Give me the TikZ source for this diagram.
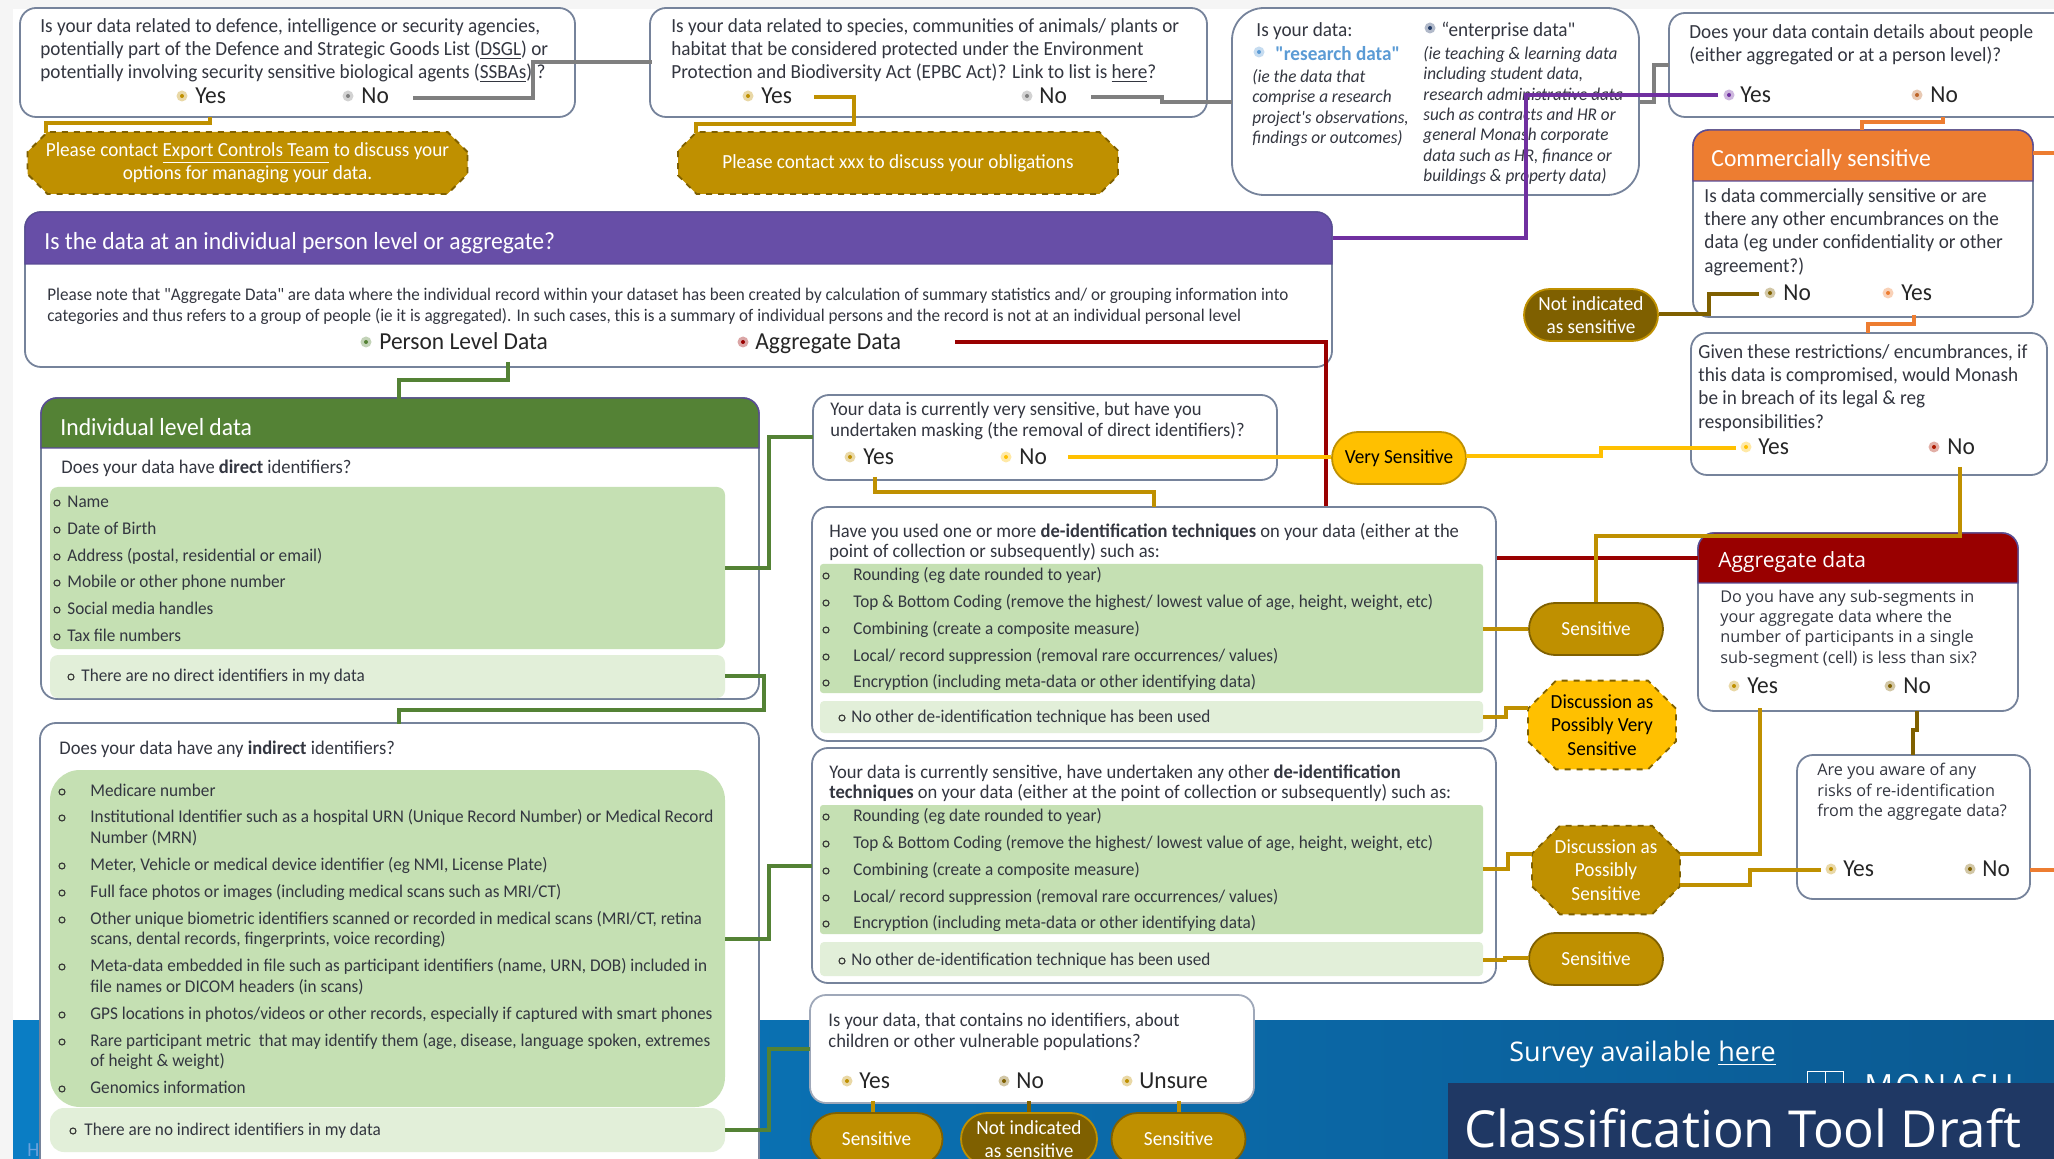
\documentclass[tikz,border=0pt]{standalone}
\usepackage{fontspec}
\setmainfont[FakeStretch=0.96, Ligatures=TeXOff]{Carlito}
\newfontfamily\widefont{Open Sans}
\usetikzlibrary{shapes.misc}

\definecolor{slateedge}{HTML}{76839B}
\definecolor{ink}{HTML}{333640}
\definecolor{goldfill}{HTML}{BF9000}
\definecolor{brownfill}{HTML}{7F6000}
\definecolor{amberfill}{HTML}{FFC000}
\definecolor{leafgreen}{HTML}{548235}
\definecolor{listgreen}{HTML}{C5E0B3}
\definecolor{palegreen}{HTML}{E2EFD9}
\definecolor{headpurple}{HTML}{674EA7}
\definecolor{headedge}{HTML}{5A4A96}
\definecolor{linepurple}{HTML}{7030A0}
\definecolor{headorange}{HTML}{ED7D31}
\definecolor{headred}{HTML}{990000}
\definecolor{linegrey}{HTML}{7F7F7F}
\definecolor{navyband}{HTML}{1F3864}
\definecolor{linkblue}{HTML}{5B9BD5}
\definecolor{darkblue}{HTML}{1F3864}
\definecolor{bandleft}{HTML}{0A7DC4}
\definecolor{bandmid}{HTML}{0070C0}
\definecolor{bandright}{HTML}{0B5A92}

\newcommand{\qfont}{\fontsize{10}{11.6}\selectfont}
\newcommand{\rfont}{\fontsize{9.65}{10.2}\selectfont}
\newcommand{\itfont}{\fontsize{8.95}{10.2}\selectfont\itshape}
\newcommand{\notefont}{\fontsize{8.9}{10.4}\selectfont}
\newcommand{\listfont}{\fontsize{8.95}{10.2}\selectfont}
\newcommand{\pickfont}{\fontsize{12.2}{13}\selectfont}
\newcommand{\pillfont}{\fontsize{10}{11.7}\selectfont}
\newcommand{\aggfont}{\widefont\fontsize{8.1}{10.2}\selectfont}

\tikzset{
    panelbox/.style={draw=slateedge, line width=0.9pt, fill=white, rounded corners=8pt, inner sep=0pt, outer sep=0pt},
    greenbox/.style={fill=listgreen, rounded corners=4pt, inner sep=0pt, outer sep=0pt},
    paleboxed/.style={fill=palegreen, rounded corners=4pt, inner sep=0pt, outer sep=0pt},
    headbar/.style={draw=headedge, line width=0.7pt},
    txt/.style={anchor=west, align=left, inner sep=0pt, text=ink, font=\qfont},
    headtxt/.style={anchor=west, inner sep=0pt, text=white, font=\fontsize{12.3}{14}\selectfont},
    picktxt/.style={anchor=west, inner sep=0pt, yshift=-1.2pt, text=black!85, font=\pickfont},
    radiohalo/.style={circle, inner sep=0pt, minimum size=5.5pt},
    bulletmark/.style={circle, draw=black!80, line width=0.55pt, inner sep=0pt, minimum size=3pt},
    pill/.style={rounded rectangle, draw=brownfill, line width=0.9pt, fill=goldfill, text=white, align=center, inner sep=0pt, font=\pillfont},
    brownpill/.style={pill, fill=brownfill, draw=goldfill},
    amberpill/.style={pill, fill=amberfill, draw=goldfill, text=black},
    snip/.style={chamfered rectangle, draw=brownfill, line width=0.9pt, dashed, fill=goldfill, text=white, align=center, inner sep=0pt, font=\pillfont},
    goldline/.style={draw=goldfill, line width=1.8pt},
    amberline/.style={draw=amberfill, line width=1.6pt},
    brownline/.style={draw=brownfill, line width=1.9pt},
    greenline/.style={draw=leafgreen, line width=1.8pt},
    redline/.style={draw=headred, line width=1.8pt},
    purpleline/.style={draw=linepurple, line width=1.8pt},
    orangeline/.style={draw=headorange, line width=1.8pt},
    greyline/.style={draw=linegrey, line width=2pt}
}

\newcommand{\panel}[6][]{\node[panelbox, minimum width={(#5-#3)*0.5pt}, minimum height={(#6-#4)*0.5pt}, #1] (#2) at ({(#3+#5)/2},{(#4+#6)/2}) {};}
\newcommand{\radio}[6]{\node[radiohalo, fill=#5!35] (#1) at (#2,#4) {};
    \fill[#5] (#1) circle (1pt);
    \node[picktxt] (#1text) at (#3,#4) {\strut #6};}
\newcommand{\bul}[5]{\node[bulletmark] (#1) at (#2,#4) {};
    \node[txt, font=\listfont, yshift=-0.4pt] (#1text) at (#3,#4) {\strut #5};}

\begin{document}
\begin{tikzpicture}[x=0.5pt, y=-0.5pt]
    \useasboundingbox (0,0) rectangle (2054,1159);
    \clip (0,0) rectangle (2054,1159);
    \fill[black!4] (0,0) rectangle (2054,1159);
    \fill[white] (13,9) rectangle (2054,1020);
    \fill[left color=bandleft, middle color=bandmid, right color=bandright] (13,1020) rectangle (2054,1159);
    \node[anchor=west, inner sep=0pt, text=cyan!60!blue!60, font=\pillfont] (cutoff) at (27,1150) {H};

    \node[anchor=west, inner sep=0pt, text=white, font=\widefont\fontsize{13.5}{15}\selectfont] (survey) at (1509,1054) {Survey available \underline{here}};
    \node[anchor=west, inner sep=0pt, text=white!85, font=\widefont\fontsize{16}{18}\selectfont] (monash) at (1864,1086) {M\kern1pt O\kern1pt N\kern1pt A\kern1pt S\kern1pt H};
    \node[draw=white!70, inner sep=0pt, minimum width=9pt, minimum height=10pt] (crestleft) at (1816,1081) {};
    \node[draw=white!70, inner sep=0pt, minimum width=9pt, minimum height=10pt] (crestright) at (1834,1081) {};
    \node[fill=navyband, inner sep=0pt, minimum width=303pt, minimum height=38pt, anchor=north west] (banner) at (1448,1083) {};
    \node[anchor=west, inner sep=0pt, text=white, font=\widefont\fontsize{25.5}{30}\selectfont] (bannertext) at (1464,1128) {Classification Tool Draft};

    \panel{defence}{20}{8}{575}{117}
    \node[txt] (defencetext) at (40,50.5) {Is your data related to defence, intelligence or security agencies,\\potentially part of the Defence and Strategic Goods List (\underline{DSGL}) or\\potentially involving security sensitive biological agents (\underline{SSBAs}) ?};
    \radio{defyes}{182}{195}{96}{goldfill}{Yes}
    \radio{defno}{348}{361}{96}{linegrey}{No}

    \panel{species}{650}{8}{1207}{117}
    \node[txt] (speciestext) at (671,50.5) {Is your data related to species, communities of animals/ plants or\\habitat that be considered protected under the Environment\\Protection and Biodiversity Act (EPBC Act)? Link to list is \underline{here}?};
    \radio{specyes}{748}{761}{96}{goldfill}{Yes}
    \radio{specno}{1027}{1039}{96}{linegrey}{No}

    \panel[rounded corners=16pt]{kinddata}{1232}{8}{1639}{195}
    \node[txt] (kindtext) at (1256,31) {Is your data:};
    \radio{research}{1259}{1275}{52}{linkblue}{}
    \node[txt, text=linkblue, font=\qfont\bfseries] (researchname) at (1275,54) {"research data"};
    \node[txt, font=\itfont] (researchnote) at (1252,108) {(ie the data that\\comprise a research\\project's observations,\\findings or outcomes)};
    \radio{enterprise}{1430}{1441}{28}{darkblue}{}
    \node[txt] (enterprisename) at (1441,31) {“enterprise data"};
    \node[txt, font=\itfont] (enterprisenote) at (1423,115.5) {(ie teaching \& learning data\\including student data,\\research administrative data\\such as contracts and HR or\\general Monash corporate\\data such as HR, finance or\\buildings \& property data)};

    \panel{people}{1669}{13}{2100}{117}
    \node[txt] (peopletext) at (1689,44.5) {Does your data contain details about people\\(either aggregated or at a person level)?};
    \radio{peopleyes}{1729}{1740}{95}{linepurple}{Yes}
    \radio{peopleno}{1917}{1930}{95}{headorange!80!black}{No}

    \node[snip, chamfered rectangle xsep=5pt, chamfered rectangle ysep=5pt, minimum width=220pt, minimum height=31pt] (exportpill) at (247.5,163) {Please contact \underline{Export Controls Team} to discuss your\\options for managing your data.};
    \node[snip, chamfered rectangle xsep=5pt, chamfered rectangle ysep=5pt, minimum width=220pt, minimum height=31pt] (obligationpill) at (898,163) {Please contact xxx to discuss your obligations};

    \panel{levelbox}{25}{212}{1332}{367}
    \fill[headpurple, headbar] (25,264) [rounded corners=8pt] -- (25,212) -- (1332,212) [sharp corners] -- (1332,264) -- cycle;
    \node[headtxt] (levelhead) at (44,243) {Is the data at an individual person level or aggregate?};
    \node[txt, font=\notefont] (levelnote) at (47,306) {Please note that "Aggregate Data" are data where the individual record within your dataset has been created by calculation of summary statistics and/ or grouping information into\\categories and thus refers to a group of people (ie it is aggregated). In such cases, this is a summary of individual persons and the record is not at an individual personal level};
    \radio{persondata}{366}{379}{342}{leafgreen}{Person Level Data}
    \radio{aggdata}{743}{755}{342}{headred}{Aggregate Data}

    \panel{aggbox}{1698}{533}{2018}{711}
    \fill[headred, headbar] (1698,583) [rounded corners=8pt] -- (1698,533) -- (2018,533) [sharp corners] -- (2018,583) -- cycle;
    \node[headtxt, font=\widefont\fontsize{10.5}{12}\selectfont] (agghead) at (1718,562) {Aggregate data};
    \node[txt, font=\aggfont] (aggtext) at (1720,628.5) {Do you have any sub-segments in\\your aggregate data where the\\number of participants in a single\\sub-segment (cell) is less than six?};
    \radio{aggyes}{1734}{1747}{686}{goldfill}{Yes}
    \radio{aggno}{1890}{1903}{686}{brownfill}{No}

    \coordinate (aggout) at (955,342);
    \coordinate (aggdrop) at (1326,558);
    \draw[redline] (aggout) -| (aggdrop) -- (aggbox.west |- aggdrop);

    \panel{commbox}{1693}{130}{2033}{317}
    \fill[headorange, headbar] (1693,181) [rounded corners=8pt] -- (1693,130) -- (2033,130) [sharp corners] -- (2033,181) -- cycle;
    \node[headtxt] (commhead) at (1711,160) {Commercially sensitive};
    \node[txt] (commtext) at (1704,232) {Is data commercially sensitive or are\\there any other encumbrances on the\\data (eg under confidentiality or other\\agreement?)};
    \radio{commno}{1770}{1783}{293}{brownfill}{No}
    \radio{commyes}{1888}{1901}{293}{headorange}{Yes}

    \panel{breachbox}{1691}{333}{2047}{475}
    \node[txt] (breachtext) at (1698,388) {Given these restrictions/ encumbrances, if\\this data is compromised, would Monash\\be in breach of its legal \& reg\\responsibilities?};
    \radio{breachyes}{1746}{1758}{447}{amberfill}{Yes}
    \radio{breachno}{1934}{1947}{447}{headred!80!orange}{No}

    \panel{riskbox}{1797}{755}{2030}{899}
    \node[txt, font=\aggfont] (risktext) at (1817,792) {Are you aware of any\\risks of re-identification\\from the aggregate data?};
    \radio{riskyes}{1831}{1843}{869}{goldfill}{Yes}
    \radio{riskno}{1970}{1982}{869}{brownfill}{No}

    \panel{directbox}{41}{398}{759}{699}
    \fill[leafgreen, headbar] (41,448) [rounded corners=8pt] -- (41,398) -- (759,398) [sharp corners] -- (759,448) -- cycle;
    \node[headtxt] (directhead) at (60,427) {Individual level data};
    \node[txt, font=\rfont] (directq) at (61,468) {Does your data have \textbf{direct} identifiers?};
    \panel[greenbox, draw=none]{directlist}{50}{487}{725}{649}
    \bul{dira}{57}{67}{503}{Name}
    \bul{dirb}{57}{67}{530}{Date of Birth}
    \bul{dirc}{57}{67}{557}{Address (postal, residential or email)}
    \bul{dird}{57}{67}{583}{Mobile or other phone number}
    \bul{dire}{57}{67}{610}{Social media handles}
    \bul{dirf}{57}{67}{637}{Tax file numbers}
    \panel[paleboxed, draw=none]{directnone}{50}{655}{725}{698}
    \bul{dirnone}{71}{81}{677}{There are no direct identifiers in my data}

    \panel{indirectbox}{40}{723}{759}{1180}
    \node[txt, font=\rfont] (indirectq) at (59,749) {Does your data have any \textbf{indirect} identifiers?};
    \panel[greenbox, rounded corners=15pt, draw=none]{indirectlist}{50}{770}{725}{1107}
    \bul{inda}{62}{90}{792}{Medicare number}
    \bul{indb}{62}{90}{818}{Institutional Identifier such as a hospital URN (Unique Record Number) or Medical Record}
    \node[txt, font=\listfont, yshift=-0.4pt] (indbmore) at (90,839) {\strut Number (MRN)};
    \bul{indc}{62}{90}{866}{Meter, Vehicle or medical device identifier (eg NMI, License Plate)}
    \bul{indd}{62}{90}{893}{Full face photos or images (including medical scans such as MRI/CT)}
    \bul{inde}{62}{90}{920}{Other unique biometric identifiers scanned or recorded in medical scans (MRI/CT, retina}
    \node[txt, font=\listfont, yshift=-0.4pt] (indemore) at (90,940) {\strut scans, dental records, fingerprints, voice recording)};
    \bul{indf}{62}{90}{967}{Meta-data embedded in file such as participant identifiers (name, URN, DOB) included in}
    \node[txt, font=\listfont, yshift=-0.4pt] (indfmore) at (90,988) {\strut file names or DICOM headers (in scans)};
    \bul{indg}{62}{90}{1015}{GPS locations in photos/videos or other records, especially if captured with smart phones}
    \bul{indh}{62}{90}{1042}{Rare participant metric\ \ that may identify them (age, disease, language spoken, extremes}
    \node[txt, font=\listfont, yshift=-0.4pt] (indhmore) at (90,1062) {\strut of height \& weight)};
    \bul{indi}{62}{90}{1089}{Genomics information}
    \panel[paleboxed, rounded corners=7pt, draw=none]{indirectnone}{50}{1108}{725}{1152}
    \bul{indnone}{73}{84}{1131}{There are no indirect identifiers in my data}

    \panel{maskbox}{813}{395}{1277}{480}
    \node[txt, font=\rfont] (masktext) at (830,421) {Your data is currently very sensitive, but have you\\undertaken masking (the removal of direct identifiers)?};
    \radio{maskyes}{850}{863}{457}{goldfill}{Yes}
    \radio{maskno}{1006}{1019}{457}{amberfill}{No}

    \panel{techbox}{812}{507}{1496}{741}
    \node[txt, font=\rfont] (techtext) at (829,542) {Have you used one or more \textbf{de-identification techniques} on your data (either at the\\point of collection or subsequently) such as:};
    \panel[greenbox, rounded corners=1.5pt, draw=none]{techlist}{820}{564}{1483}{693}
    \bul{tea}{826}{853}{576}{Rounding (eg date rounded to year)}
    \bul{teb}{826}{853}{603}{Top \& Bottom Coding (remove the highest/ lowest value of age, height, weight, etc)}
    \bul{tec}{826}{853}{630}{Combining (create a composite measure)}
    \bul{ted}{826}{853}{657}{Local/ record suppression (removal rare occurrences/ values)}
    \bul{tee}{826}{853}{683}{Encryption (including meta-data or other identifying data)}
    \panel[paleboxed, rounded corners=2pt, draw=none]{technone}{820}{701}{1483}{733}
    \bul{tenone}{842}{851}{718}{No other de-identification technique has been used}

    \panel{otherbox}{812}{748}{1496}{983}
    \node[txt, font=\rfont] (othertext) at (829,783) {Your data is currently sensitive, have undertaken any other \textbf{de-identification}\\\textbf{techniques} on your data (either at the point of collection or subsequently) such as:};
    \panel[greenbox, rounded corners=1.5pt, draw=none]{otherlist}{820}{805}{1483}{934}
    \bul{oa}{826}{853}{817}{Rounding (eg date rounded to year)}
    \bul{ob}{826}{853}{844}{Top \& Bottom Coding (remove the highest/ lowest value of age, height, weight, etc)}
    \bul{oc}{826}{853}{871}{Combining (create a composite measure)}
    \bul{od}{826}{853}{898}{Local/ record suppression (removal rare occurrences/ values)}
    \bul{oe}{826}{853}{924}{Encryption (including meta-data or other identifying data)}
    \panel[paleboxed, rounded corners=2pt, draw=none]{othernone}{820}{942}{1483}{976}
    \bul{onone}{842}{851}{961}{No other de-identification technique has been used}

    \panel[draw=slateedge!70]{childbox}{810}{995}{1254}{1103}
    \node[txt, font=\rfont] (childtext) at (828,1032) {Is your data, that contains no identifiers, about\\children or other vulnerable populations?};
    \radio{childyes}{847}{859}{1081}{goldfill}{Yes}
    \radio{childno}{1004}{1016}{1081}{brownfill}{No}
    \radio{childunsure}{1127}{1139}{1081}{goldfill}{Unsure}

    \node[pill, minimum width=66pt, minimum height=26pt] (childsensa) at (876.5,1139) {Sensitive};
    \node[brownpill, minimum width=68pt, minimum height=26pt] (childnot) at (1029,1139) {Not indicated\\as sensitive};
    \node[pill, minimum width=67pt, minimum height=26pt] (childsensb) at (1178.5,1139) {Sensitive};

    \node[brownpill, minimum width=67pt, minimum height=26pt] (notcomm) at (1591,315) {Not indicated\\as sensitive};
    \node[amberpill, minimum width=67pt, minimum height=26pt] (verysens) at (1399,458) {Very Sensitive};
    \node[pill, minimum width=67pt, minimum height=26pt] (senstech) at (1596,629) {Sensitive};
    \node[pill, minimum width=67pt, minimum height=26pt] (sensother) at (1596,959) {Sensitive};
    \node[snip, fill=amberfill, text=black, chamfered rectangle xsep=7pt, chamfered rectangle ysep=7pt, minimum width=74pt, minimum height=39pt] (discvery) at (1602,725) {Discussion as\\Possibly Very\\Sensitive};
    \node[snip, chamfered rectangle xsep=7pt, chamfered rectangle ysep=7pt, minimum width=74pt, minimum height=39pt] (discposs) at (1606,870) {Discussion as\\Possibly\\Sensitive};

    \coordinate (defout) at (413,98);
    \coordinate (speciesin) at (652,62);
    \draw[greyline] (defout) -- (533,98) |- (speciesin);
    \coordinate (specout) at (1091,97);
    \coordinate (kindin) at (1232,102);
    \draw[greyline] (specout) -- (1162,97) |- (kindin);
    \coordinate (kindout) at (1640,102);
    \coordinate (peoplein) at (1669,65);
    \draw[greyline] (kindout) -- (1654,102) |- (peoplein);

    \coordinate (defdown) at (210,117);
    \coordinate (exportin) at (46,133);
    \draw[goldline] (defdown) |- (46,123) -- (exportin);
    \coordinate (specyesout) at (814,97);
    \coordinate (obligationin) at (696,133);
    \draw[goldline] (specyesout) -| (854,124) -| (obligationin);

    \coordinate (peopleout) at (1718,95);
    \coordinate (levelout) at (1333,238);
    \draw[purpleline] (peopleout) -| (1526,238) -- (levelout);

    \coordinate (peopledown) at (1943,117);
    \coordinate (commin) at (1862,130);
    \draw[orangeline] (peopledown) |- (1862,122) -- (commin);
    \coordinate (commstub) at (2054,153);
    \draw[orangeline] (commbox.east |- commstub) -- (commstub);
    \coordinate (commdown) at (1914,315);
    \coordinate (breachin) at (1868,333);
    \draw[orangeline] (commdown) |- (1868,324) -- (breachin);
    \coordinate (riskstub) at (2054,870);
    \draw[orangeline] (riskbox.east |- riskstub) -- (riskstub);

    \coordinate (commnoout) at (1759,294);
    \draw[brownline] (commnoout) -| (1709,314) -- (notcomm.east |- 1709,314);

    \coordinate (persondown) at (508,362);
    \coordinate (directin) at (399,399);
    \draw[greenline] (persondown) |- (399,380) -- (directin);
    \coordinate (listout) at (725,568);
    \coordinate (maskin) at (813,437);
    \draw[greenline] (listout) -| (769,437) -- (maskin);
    \coordinate (noneout) at (725,676);
    \coordinate (indirectin) at (399,724);
    \draw[greenline] (noneout) -| (764,710) -| (indirectin);
    \coordinate (indlistout) at (725,939);
    \coordinate (otherin) at (812,866);
    \draw[greenline] (indlistout) -| (769,866) -- (otherin);
    \coordinate (indnoneout) at (725,1130);
    \coordinate (childin) at (810,1049);
    \draw[greenline] (indnoneout) -| (769,1049) -- (childin);

    \coordinate (maskout) at (1068,457);
    \draw[amberline] (maskout) -- (verysens.west |- maskout);
    \coordinate (breachout) at (1736,448);
    \coordinate (veryout) at (1466,456);
    \draw[amberline] (veryout) -- (1601,456) |- (breachout);

    \coordinate (maskdown) at (875,477);
    \coordinate (techin) at (1154,507);
    \draw[goldline] (maskdown) |- (1154,492) -- (techin);

    \draw[goldline] (techlist.east |- senstech) -- (senstech.west);
    \coordinate (technoneout) at (1483,717);
    \coordinate (discveryin) at (1528,708);
    \draw[goldline] (technoneout) -- (1506,717) |- (discveryin);
    \coordinate (otherlistout) at (1483,869);
    \coordinate (discin) at (1532,854);
    \draw[goldline] (otherlistout) -- (1508,869) |- (discin);
    \coordinate (othernoneout) at (1483,960);
    \coordinate (sensotherin) at (1529,958);
    \draw[goldline] (othernoneout) -- (1505,960) |- (sensotherin);

    \coordinate (breachdown) at (1960,467);
    \draw[goldline] (breachdown) |- (1596,536) -- (senstech.north);
    \coordinate (aggyesdown) at (1760,708);
    \coordinate (discright) at (1680,854);
    \draw[goldline] (aggyesdown) |- (discright);
    \coordinate (riskyesout) at (1821,870);
    \coordinate (discrightb) at (1680,885);
    \draw[goldline] (riskyesout) -- (1750,870) |- (discrightb);

    \coordinate (aggnodown) at (1917,711);
    \coordinate (riskin) at (1913,755);
    \draw[brownline] (aggnodown) -- (1917,730) -- (1913,730) -- (riskin);

    \coordinate (childyesdown) at (873,1101);
    \coordinate (childnodown) at (1029,1101);
    \coordinate (childundown) at (1179,1101);
    \draw[goldline] (childyesdown) -- (childsensa.north -| childyesdown);
    \draw[brownline] (childnodown) -- (childnot.north);
    \draw[goldline] (childundown) -- (childsensb.north -| childundown);
\end{tikzpicture}
\end{document}
